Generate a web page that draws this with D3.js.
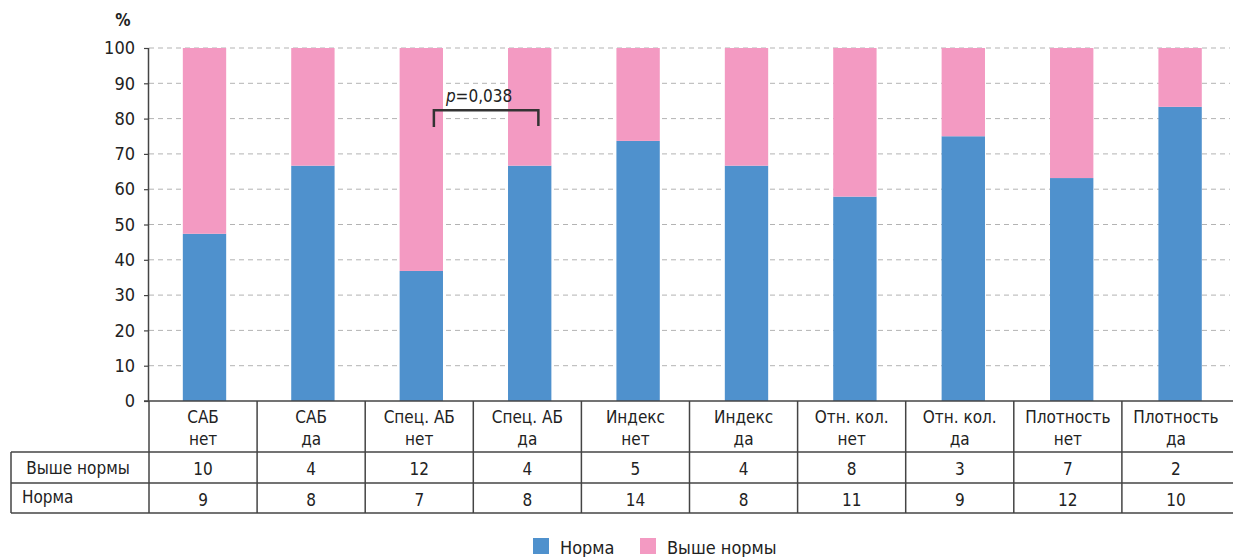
<!DOCTYPE html>
<html>
<head>
<meta charset="utf-8">
<script src="https://cdn.jsdelivr.net/npm/d3@7"></script>
<style>
  body { margin: 0; background: #fff; }
  svg text { font-family: "Liberation Sans Narrow", "DejaVu Sans Condensed", "Roboto", sans-serif; fill: #222; }
</style>
</head>
<body>
<svg id="chart" width="1233" height="557"></svg>
<script>
// categories (two-line labels)
const categories = ['САБ|нет', 'САБ|да', 'Спец. АБ|нет', 'Спец. АБ|да', 'Индекс|нет',
    'Индекс|да', 'Отн. кол.|нет', 'Отн. кол.|да', 'Плотность|нет', 'Плотность|да'];
// counts from the table under the chart
const aboveCounts = [10, 4, 12, 4, 5, 4, 8, 3, 7, 2];
const normCounts = [9, 8, 7, 8, 14, 8, 11, 9, 12, 10];
const seriesNames = ['Норма', 'Выше нормы'];
const seriesKeys = ['norm', 'above'];
const yTicks = [0, 10, 20, 30, 40, 50, 60, 70, 80, 90, 100];

const BLUE = '#4f91cd';
const PINK = '#f39ac2';

const svg = d3.select('#chart');
const margins = { left: 149, right: 3, top: 48, bottom: 156 };
const width = 1233, height = 557;
const plotBottom = 401;

const rows = categories.map((c, i) => ({ cat: c, norm: normCounts[i], above: aboveCounts[i] }));

const x = d3.scaleBand()
    .domain(categories)
    .range([margins.left, width])
    .paddingInner(0.6)
    .paddingOuter(0.3)
    .align(0.52);

const xCell = d3.scaleBand()
    .domain(categories)
    .range([margins.left, width - margins.right]);

const y = d3.scaleLinear().domain([0, 100]).range([plotBottom, margins.top]);

// gridlines
svg.append('g')
    .selectAll('line')
    .data(yTicks.filter(d => d > 0))
    .join('line')
    .attr('x1', margins.left).attr('x2', width - margins.right)
    .attr('y1', d => y(d)).attr('y2', d => y(d))
    .attr('stroke', '#b3b3b3')
    .attr('stroke-width', 1)
    .attr('stroke-dasharray', '5,4');

// stacked bars (percent of group)
const stack = d3.stack().keys(seriesKeys).offset(d3.stackOffsetExpand);
const layers = stack(rows);
const colors = { norm: BLUE, above: PINK };

svg.append('g')
    .selectAll('g')
    .data(layers)
    .join('g')
    .attr('fill', d => colors[d.key])
    .selectAll('rect')
    .data(d => d)
    .join('rect')
    .attr('x', d => x(d.data.cat))
    .attr('width', x.bandwidth())
    .attr('y', d => y(d[1] * 100))
    .attr('height', d => y(d[0] * 100) - y(d[1] * 100));

// y axis
const yAxis = svg.append('g')
    .attr('transform', `translate(${margins.left},0)`)
    .call(d3.axisLeft(y).tickValues(yTicks).tickSize(5).tickPadding(9));
yAxis.select('.domain').attr('stroke', '#444').attr('stroke-width', 1.5).attr('d', `M-0.5,${y(100)}V${plotBottom}`);
yAxis.selectAll('.tick line').attr('stroke', '#444').attr('stroke-width', 1.2);
yAxis.selectAll('.tick text').style('font-size', '18px').attr('fill', '#222')
    .style('font-family', '"Liberation Sans Narrow", "DejaVu Sans Condensed", sans-serif');

svg.append('text')
    .attr('x', 123).attr('y', 26)
    .attr('text-anchor', 'middle')
    .style('font-size', '17px').style('font-weight', 'bold')
    .text('%');

// significance bracket
const bx1 = x(categories[2]) + x.bandwidth() * 0.79;
const bx2 = x(categories[3]) + x.bandwidth() * 0.7;
const by = y(82.4);
const legEnd = y(77.6);
svg.append('path')
    .attr('d', `M${bx1},${legEnd}V${by}H${bx2}V${legEnd - 1}`)
    .attr('fill', 'none')
    .attr('stroke', '#333')
    .attr('stroke-width', 2.5);
const pText = svg.append('text')
    .attr('x', bx1 + 12).attr('y', by - 8)
    .style('font-size', '17px');
pText.append('tspan').style('font-style', 'italic').text('p');
pText.append('tspan').text('=0,038');

// table
const tbl = svg.append('g');
const lineColor = '#444';
const rowTop = plotBottom, row1 = 452, row2 = 483, row3 = 513;
const tableLeft = 11;
const fs = '17px';

// x axis line
tbl.append('line')
    .attr('x1', margins.left - 5).attr('x2', width).attr('y1', rowTop).attr('y2', rowTop)
    .attr('stroke', lineColor).attr('stroke-width', 1.5);

[row1, row2, row3].forEach(yy => {
    tbl.append('line')
        .attr('x1', tableLeft).attr('x2', width).attr('y1', yy).attr('y2', yy)
        .attr('stroke', lineColor).attr('stroke-width', 1.5);
});
tbl.append('line')
    .attr('x1', tableLeft).attr('x2', tableLeft).attr('y1', row1).attr('y2', row3)
    .attr('stroke', lineColor).attr('stroke-width', 1.5);
tbl.append('line')
    .attr('x1', margins.left).attr('x2', margins.left).attr('y1', rowTop).attr('y2', row3)
    .attr('stroke', lineColor).attr('stroke-width', 1.5);
tbl.selectAll('.vsep')
    .data(categories.slice(1))
    .join('line')
    .attr('x1', d => xCell(d)).attr('x2', d => xCell(d))
    .attr('y1', rowTop).attr('y2', row3)
    .attr('stroke', lineColor).attr('stroke-width', 1.5);

// category labels
const catText = tbl.selectAll('.cat')
    .data(categories)
    .join('text')
    .attr('text-anchor', 'middle')
    .style('font-size', fs);
catText.append('tspan')
    .attr('x', d => xCell(d) + xCell.bandwidth() / 2)
    .attr('y', 423)
    .text(d => d.split('|')[0]);
catText.append('tspan')
    .attr('x', d => xCell(d) + xCell.bandwidth() / 2)
    .attr('y', 445)
    .text(d => d.split('|')[1]);

// row labels
tbl.append('text').attr('x', 78).attr('y', 474).attr('text-anchor', 'middle')
    .style('font-size', fs).text('Выше нормы');
tbl.append('text').attr('x', 22).attr('y', 503)
    .style('font-size', fs).text('Норма');

tbl.selectAll('.above')
    .data(rows)
    .join('text')
    .attr('x', d => xCell(d.cat) + xCell.bandwidth() / 2)
    .attr('y', 475)
    .attr('text-anchor', 'middle')
    .style('font-size', fs)
    .text(d => d.above);

tbl.selectAll('.norm')
    .data(rows)
    .join('text')
    .attr('x', d => xCell(d.cat) + xCell.bandwidth() / 2)
    .attr('y', 506)
    .attr('text-anchor', 'middle')
    .style('font-size', fs)
    .text(d => d.norm);

// legend
const legend = svg.append('g').attr('transform', 'translate(533,538)');
const legX = [0, 107];
seriesNames.forEach((name, i) => {
    legend.append('rect')
        .attr('x', legX[i]).attr('y', 0)
        .attr('width', 16).attr('height', 16)
        .attr('fill', seriesKeys[i] === 'norm' ? BLUE : PINK);
    legend.append('text')
        .attr('x', legX[i] + 27).attr('y', 16)
        .style('font-size', '18px')
        .text(name);
});
</script>
</body>
</html>
